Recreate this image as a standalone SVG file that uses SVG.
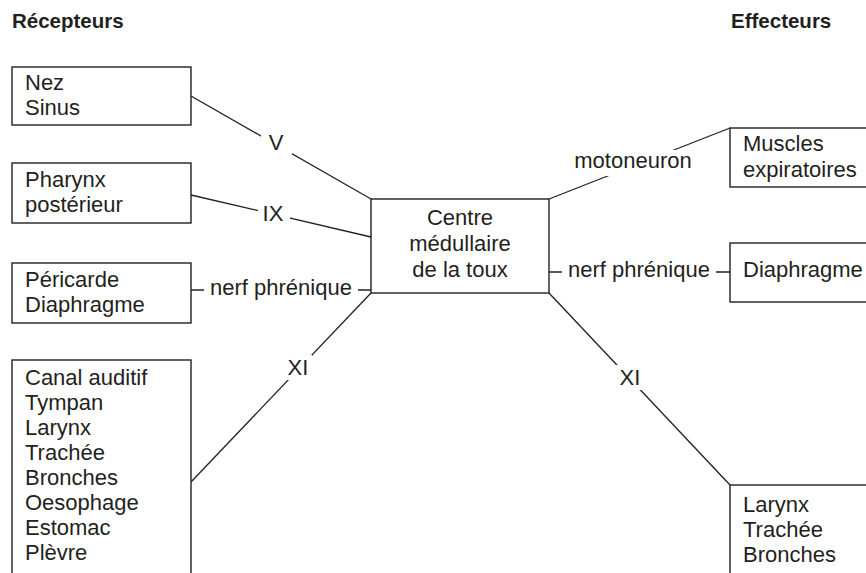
<svg xmlns="http://www.w3.org/2000/svg" width="866" height="573" viewBox="0 0 866 573">
  <style>
    .box { fill: #fff; stroke: #231f20; stroke-width: 1.4; }
    .link { fill: none; stroke: #231f20; stroke-width: 1.3; }
    .gap { fill: #fff; stroke: none; }
    text { font-family: "Liberation Sans", Arial, sans-serif; fill: #231f20; }
    .t { font-size: 22px; }
    .h { font-size: 20.5px; font-weight: bold; }
    .c { text-anchor: middle; }
  </style>
  <rect width="866" height="573" fill="#fff"/>

  <!-- column headings -->
  <text class="h" x="12" y="28">Récepteurs</text>
  <text class="h" x="731" y="28">Effecteurs</text>

  <!-- connectors, drawn first so label backgrounds cut them -->
  <g id="connectors">
    <line class="link" x1="191" y1="96" x2="371" y2="199"/>
    <line class="link" x1="191" y1="195" x2="371" y2="237"/>
    <line class="link" x1="191" y1="290" x2="371" y2="290"/>
    <line class="link" x1="371" y1="293" x2="191" y2="482"/>
    <line class="link" x1="549" y1="199" x2="730" y2="128"/>
    <line class="link" x1="549" y1="272" x2="730" y2="272"/>
    <line class="link" x1="549" y1="293" x2="730" y2="485"/>

    <rect class="gap" x="261" y="131" width="31" height="23"/>
    <text class="t c" x="276" y="150">V</text>

    <rect class="gap" x="258" y="203" width="32" height="22"/>
    <text class="t c" x="273" y="221">IX</text>

    <rect class="gap" x="204" y="276" width="154" height="24"/>
    <text class="t c" x="281" y="295">nerf phrénique</text>

    <rect class="gap" x="284" y="355" width="28" height="25"/>
    <text class="t c" x="298" y="375">XI</text>

    <rect class="gap" x="569" y="150" width="128" height="26"/>
    <text class="t c" x="633" y="168">motoneuron</text>

    <rect class="gap" x="562" y="259" width="154" height="24"/>
    <text class="t c" x="639" y="277">nerf phrénique</text>

    <rect class="gap" x="615" y="365" width="30" height="25"/>
    <text class="t c" x="630" y="385">XI</text>
  </g>

  <!-- receptor nodes -->
  <g id="nez-sinus">
    <rect class="box" x="12" y="67" width="179" height="58"/>
    <text class="t" x="25" y="90">Nez</text>
    <text class="t" x="25" y="115">Sinus</text>
  </g>
  <g id="pharynx">
    <rect class="box" x="12" y="163" width="179" height="60"/>
    <text class="t" x="25" y="187">Pharynx</text>
    <text class="t" x="25" y="212">postérieur</text>
  </g>
  <g id="pericarde">
    <rect class="box" x="12" y="263" width="179" height="60"/>
    <text class="t" x="25" y="287">Péricarde</text>
    <text class="t" x="25" y="312">Diaphragme</text>
  </g>
  <g id="voies-aeriennes">
    <rect class="box" x="12" y="360" width="179" height="230"/>
    <text class="t" x="25" y="385">Canal auditif</text>
    <text class="t" x="25" y="410">Tympan</text>
    <text class="t" x="25" y="435">Larynx</text>
    <text class="t" x="25" y="460">Trachée</text>
    <text class="t" x="25" y="485">Bronches</text>
    <text class="t" x="25" y="510">Oesophage</text>
    <text class="t" x="25" y="535">Estomac</text>
    <text class="t" x="25" y="560">Plèvre</text>
  </g>

  <!-- central node -->
  <g id="centre">
    <rect class="box" x="371" y="199" width="178" height="94"/>
    <text class="t c" x="460" y="225">Centre</text>
    <text class="t c" x="460" y="251">médullaire</text>
    <text class="t c" x="460" y="277">de la toux</text>
  </g>

  <!-- effector nodes -->
  <g id="muscles">
    <rect class="box" x="730" y="128" width="160" height="59"/>
    <text class="t" x="743" y="151">Muscles</text>
    <text class="t" x="743" y="177">expiratoires</text>
  </g>
  <g id="diaphragme">
    <rect class="box" x="730" y="243" width="160" height="59"/>
    <text class="t" x="743" y="277">Diaphragme</text>
  </g>
  <g id="larynx">
    <rect class="box" x="730" y="485" width="160" height="110"/>
    <text class="t" x="743" y="512">Larynx</text>
    <text class="t" x="743" y="537">Trachée</text>
    <text class="t" x="743" y="562">Bronches</text>
  </g>
</svg>
